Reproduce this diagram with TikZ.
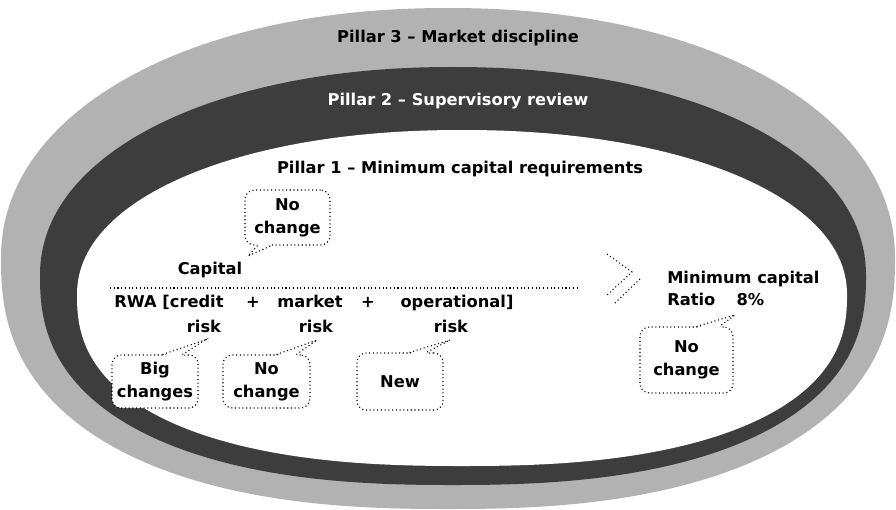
\documentclass[tikz,border=0pt]{standalone}
\usepackage{fontspec}
\setmainfont{DejaVu Sans}
\usetikzlibrary{calc}
\definecolor{lightband}{gray}{0.70}
\definecolor{darkband}{gray}{0.24}
% egg-shaped closed curve: cx, cy, rx, ry top, ry bottom, exponent top, exponent bottom
\newcommand{\myegg}[7]{plot[domain=0:359, samples=360, variable=\t]
  ({#1+#3*cos(\t)*(abs(cos(\t))+0.0001)^(ifthenelse(\t<180,#7,#6)-1)},
   {#2+ifthenelse(\t<180,#5,#4)*sin(\t)*(abs(sin(\t))+0.0001)^(ifthenelse(\t<180,#7,#6)-1)}) -- cycle}
\tikzset{
  lbl/.style={font=\fontsize{12.2}{17.25}\selectfont\bfseries, inner sep=0pt, anchor=base},
  bubble/.style={draw, dotted, line width=0.8pt, rounded corners=7pt, fill=white, align=center,
     font=\fontsize{12.2}{17.25}\selectfont\bfseries, inner sep=0pt},
  tailline/.style={draw, dotted, line width=0.8pt},
  fracline/.style={draw, dotted, line width=0.8pt},
}
\begin{document}
\begin{tikzpicture}[x=0.75pt,y=-0.75pt]
\useasboundingbox (0,0) rectangle (896,510);
\fill[white] (0,0) rectangle (896,510);
% Pillar 3 band
\fill[lightband] \myegg{448}{259}{447}{251}{250}{0.95}{0.83};
% Pillar 2 band
\fill[darkband] \myegg{453}{276}{413}{209}{209}{0.95}{0.83};
% Pillar 1 area
\fill[white] \myegg{462}{295}{385}{165}{171}{0.95}{0.83};

\node[lbl] (p3) at (458,43) {Pillar 3 – Market discipline};
\node[lbl, white] (p2) at (458,105) {Pillar 2 – Supervisory review};
\node[lbl] (p1) at (460,173) {Pillar 1 – Minimum capital requirements};

\node[lbl] (cap) at (210,274) {Capital};
\coordinate (fl) at (110,288);
\coordinate (fr) at (580,288);
\draw[fracline] (fl) -- (fr);

\node[lbl] (rwa) at (169,307) {RWA [credit};
\node[lbl] (plus1) at (253,307) {+};
\node[lbl] (mkt) at (310,307) {market};
\node[lbl] (plus2) at (368,307) {+};
\node[lbl] (op) at (457,307) {operational]};
\node[lbl] (r1) at (204,332) {risk};
\node[lbl] (r2) at (316,332) {risk};
\node[lbl] (r3) at (451,332) {risk};

% greater-or-equal sign
\coordinate (g1) at (607,254);
\coordinate (g2) at (632,272);
\coordinate (g3) at (607,295);
\coordinate (g4) at (640,279);
\coordinate (g5) at (614,304);
\draw[fracline] (g1) -- (g2) -- (g3);
\draw[fracline] (g4) -- (g5);

\node[lbl, anchor=base west] (minc) at (667,283) {Minimum capital};
\node[lbl, anchor=base west] (ratio) at (667,305) {Ratio\hspace{16pt}8\%};

% bubbles
\node[bubble, minimum width=63.75pt, minimum height=41.25pt] (nc1) at (287.5,217.5) {No\\change};
\node[bubble, minimum width=64.5pt, minimum height=39.75pt] (bc) at (155,381.5) {Big\\changes};
\node[bubble, minimum width=65.25pt, minimum height=39.75pt] (nc2) at (266.5,381.5) {No\\change};
\node[bubble, minimum width=64.5pt, minimum height=42.75pt] (nw) at (400,381.5) {New};
\node[bubble, minimum width=69.75pt, minimum height=49.5pt] (nc3) at (686.5,360) {No\\change};

% tails
\coordinate (t1) at (248,256);
\coordinate (t2) at (205,340);
\coordinate (t3) at (317,340);
\coordinate (t4) at (450,340);
\coordinate (t5) at (735,315);

\fill[white] ($(nc1.south west)+(13,-1.5)$) -- (t1) -- ($(nc1.south west)+(27,-1.5)$) -- cycle;
\draw[tailline] ($(nc1.south west)+(13,0)$) -- (t1) -- ($(nc1.south west)+(27,0)$);

\fill[white] ($(bc.north west)+(51,1.5)$) -- (t2) -- ($(bc.north west)+(71,1.5)$) -- cycle;
\draw[tailline] ($(bc.north west)+(51,0)$) -- (t2) -- ($(bc.north west)+(71,0)$);

\fill[white] ($(nc2.north west)+(54,1.5)$) -- (t3) -- ($(nc2.north west)+(74,1.5)$) -- cycle;
\draw[tailline] ($(nc2.north west)+(54,0)$) -- (t3) -- ($(nc2.north west)+(74,0)$);

\fill[white] ($(nw.north west)+(53,1.5)$) -- (t4) -- ($(nw.north west)+(70,1.5)$) -- cycle;
\draw[tailline] ($(nw.north west)+(53,0)$) -- (t4) -- ($(nw.north west)+(70,0)$);

\fill[white] ($(nc3.north west)+(57,1.5)$) -- (t5) -- ($(nc3.north west)+(80,1.5)$) -- cycle;
\draw[tailline] ($(nc3.north west)+(57,0)$) -- (t5) -- ($(nc3.north west)+(80,0)$);
\end{tikzpicture}
\end{document}
